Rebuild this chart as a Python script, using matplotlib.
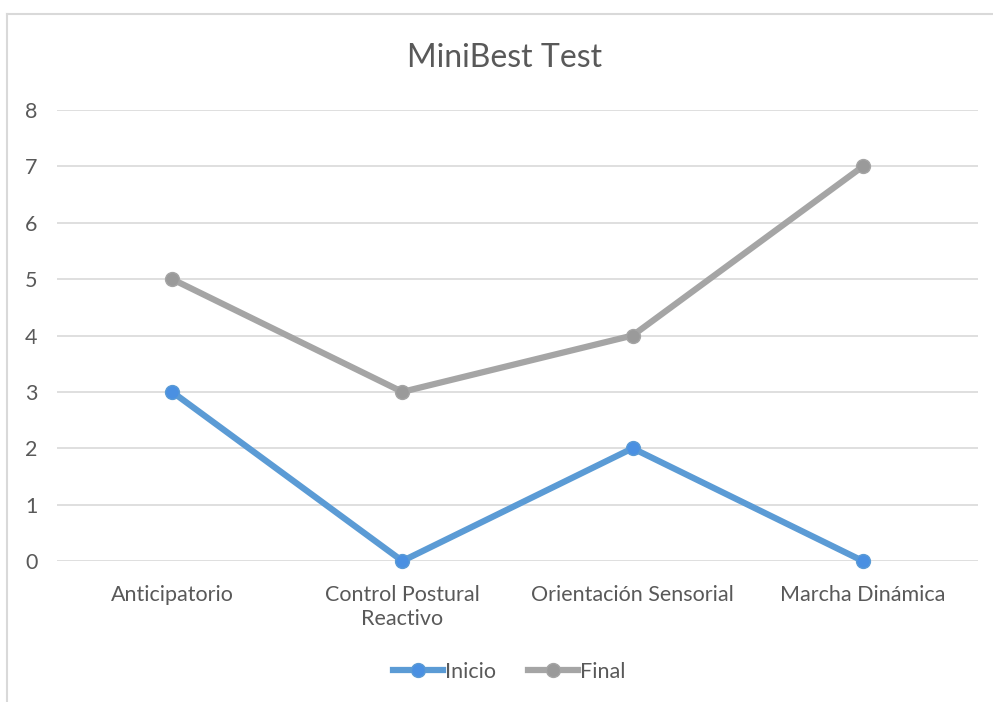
import matplotlib.pyplot as plt
from matplotlib.lines import Line2D

categories = ['Anticipatorio', 'Control Postural\nReactivo', 'Orientación Sensorial', 'Marcha Dinámica']
inicio = [3, 0, 2, 0]
final = [5, 3, 4, 7]

plt.rcParams['font.family'] = ['Lato', 'DejaVu Sans']
text_color = '#595959'

fig = plt.figure(figsize=(9.93, 7.02), dpi=100)
ax = fig.add_axes([57 / 993, 1 - 561 / 702, 921 / 993, 451 / 702])

x = range(len(categories))
ax.plot(x, inicio, color='#5B9BD5', lw=4.5, marker='o', ms=10,
        markerfacecolor='#4A90E2', markeredgecolor='#5B9BD5', label='Inicio')
ax.plot(x, final, color='#A5A5A5', lw=4.5, marker='o', ms=10,
        markerfacecolor='#9A9A9A', markeredgecolor='#A5A5A5', label='Final')

ax.set_xlim(-0.5, len(categories) - 0.5)
ax.set_ylim(0, 8)
ax.set_yticks(range(0, 9))
ax.set_xticks(list(x))
ax.set_xticklabels(categories, fontsize=15.5, color=text_color, linespacing=1.3)
ax.tick_params(axis='y', labelsize=15.5, labelcolor=text_color, length=0, pad=14)
ax.tick_params(axis='x', length=0, pad=17)
ax.grid(axis='y', color='#D9D9D9', lw=1.2)
ax.set_axisbelow(True)
for s in ax.spines.values():
    s.set_visible(False)
for line in ax.lines:
    line.set_clip_on(False)

fig.text(0.508, 1 - 58 / 702, 'MiniBest Test', fontsize=23, color=text_color,
         ha='center', va='center')

leg = fig.legend(loc='center', bbox_to_anchor=(0.513, 1 - 672 / 702), ncol=2,
                 frameon=False, fontsize=15.5, handlelength=2.3, handletextpad=0.1,
                 columnspacing=1.5, labelcolor=text_color)

# chart frame (left and top edges visible)
fig.add_artist(Line2D([7 / 993, 7 / 993], [0, 1 - 14 / 702], color='#D9D9D9', lw=1.5))
fig.add_artist(Line2D([7 / 993, 1], [1 - 14 / 702, 1 - 14 / 702], color='#D9D9D9', lw=1.5))

fig.savefig('out.png', dpi=100)
